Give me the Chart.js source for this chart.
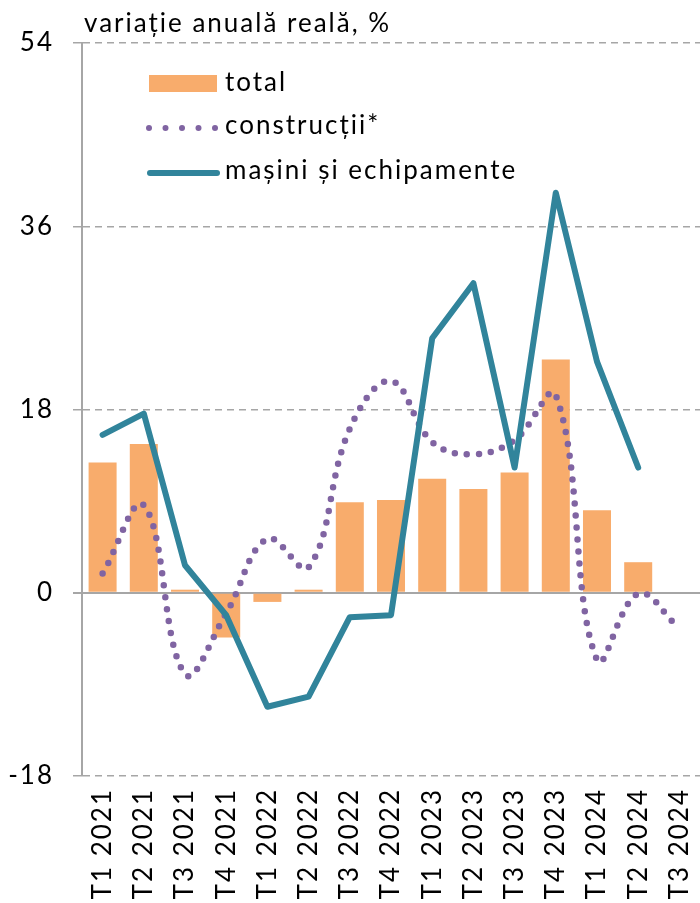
<!DOCTYPE html>
<html>
<head>
<meta charset="utf-8">
<script src="https://cdn.jsdelivr.net/npm/chart.js@4.4.1/dist/chart.umd.min.js"></script>
<style>
  html, body { margin: 0; padding: 0; background: #fff; }
  #wrap { position: relative; width: 700px; height: 903px; }
</style>
</head>
<body>
<div id="wrap"><canvas id="invChart" width="700" height="903"></canvas></div>
<script>
const quarters = ["T1 2021", "T2 2021", "T3 2021", "T4 2021", "T1 2022", "T2 2022", "T3 2022", "T4 2022",
                  "T1 2023", "T2 2023", "T3 2023", "T4 2023", "T1 2024", "T2 2024", "T3 2024"];
const total = [12.8, 14.6, 0.3, -4.4, -0.9, 0.3, 8.9, 9.1, 11.2, 10.2, 11.8, 22.9, 8.1, 3.0, null];
const constructii = [1.9, 8.6, -8.0, -2.0, 5.3, 2.5, 16.1, 20.8, 14.8, 13.6, 15.0, 19.4, -6.6, -0.1, -3.5];
const masini = [15.5, 17.6, 2.7, -2.2, -11.2, -10.2, -2.4, -2.2, 25.0, 30.4, 12.3, 39.3, 22.7, 12.3, null];
const yTicks = [-18, 0, 18, 36, 54];

const FONT = "Lato, 'DejaVu Sans', sans-serif";
const ORANGE = "#F8AC6C";
const PURPLE = "#8064A2";
const TEAL = "#31849B";
const GRID = "#A6A6A6";
const SPACING = "2px";

// the excel original has wide tracking on all its text
const tracking = {
    id: 'tracking',
    beforeUpdate(chart) { chart.ctx.letterSpacing = SPACING; },
    beforeDraw(chart) { chart.ctx.letterSpacing = SPACING; }
};

// title + legend drawn inside the plot, like the excel original
const overlay = {
    id: 'overlay',
    afterDraw(chart) {
        const ctx = chart.ctx;
        ctx.save();
        ctx.letterSpacing = SPACING;
        ctx.fillStyle = "#000";
        ctx.textBaseline = "middle";
        ctx.textAlign = "left";
        ctx.font = "26px " + FONT;
        ctx.fillText("variație anuală reală, %", 84, 24);

        // total
        ctx.fillStyle = ORANGE;
        ctx.fillRect(149, 75, 68, 17);
        ctx.fillStyle = "#000";
        ctx.fillText("total", 225, 83);
        // constructii
        ctx.fillStyle = PURPLE;
        for (let i = 0; i < 5; i++) {
            ctx.beginPath();
            ctx.arc(149 + i * 16.5, 128, 3, 0, Math.PI * 2);
            ctx.fill();
        }
        ctx.fillStyle = "#000";
        ctx.fillText("construcții*", 225, 126);
        // masini
        ctx.strokeStyle = TEAL;
        ctx.lineWidth = 6;
        ctx.lineCap = "round";
        ctx.beginPath();
        ctx.moveTo(150, 173);
        ctx.lineTo(217, 173);
        ctx.stroke();
        ctx.fillText("mașini și echipamente", 225, 171);
        ctx.restore();
    }
};

new Chart(document.getElementById("invChart"), {
    data: {
        labels: quarters,
        datasets: [
            {
                type: 'line',
                label: 'mașini și echipamente',
                data: masini,
                borderColor: TEAL,
                borderWidth: 6,
                pointRadius: 0,
                tension: 0,
                borderJoinStyle: 'round',
                borderCapStyle: 'round',
                fill: false,
                order: 1
            },
            {
                type: 'line',
                label: 'construcții*',
                data: constructii,
                borderColor: PURPLE,
                borderWidth: 6.5,
                borderDash: [0, 12],
                borderCapStyle: 'round',
                pointRadius: 0,
                tension: 0.4,
                fill: false,
                order: 2
            },
            {
                type: 'bar',
                label: 'total',
                data: total,
                backgroundColor: ORANGE,
                categoryPercentage: 1.0,
                barPercentage: 0.68,
                order: 3
            }
        ]
    },
    options: {
        responsive: false,
        animation: false,
        layout: { padding: { top: 43, right: 0, left: 0, bottom: 0 } },
        plugins: {
            legend: { display: false },
            tooltip: { enabled: false }
        },
        scales: {
            x: {
                grid: { display: false },
                border: { display: false },
                ticks: {
                    color: "#000",
                    font: { family: FONT, size: 26 },
                    minRotation: 90,
                    maxRotation: 90,
                    padding: 4,
                    autoSkip: false
                },
                afterFit: scale => {
                    scale.height = 127;
                    scale.paddingLeft = 0;
                    scale.paddingRight = 0;
                }
            },
            y: {
                min: -18,
                max: 54,
                afterBuildTicks: scale => { scale.ticks = yTicks.map(v => ({ value: v })); },
                grid: {
                    color: GRID,
                    lineWidth: ctx => ctx.tick && ctx.tick.value === 0 ? 2 : 1.5,
                    tickColor: GRID,
                    tickLength: 9,
                    tickBorderDash: [0]
                },
                border: {
                    display: true,
                    color: GRID,
                    width: 2,
                    dash: ctx => ctx.tick && ctx.tick.value === 0 ? [] : [7, 5]
                },
                ticks: {
                    color: "#000",
                    font: { family: FONT, size: 26 },
                    padding: 19
                },
                afterFit: scale => { scale.width = 82; }
            }
        }
    },
    plugins: [tracking, overlay]
});
</script>
</body>
</html>
